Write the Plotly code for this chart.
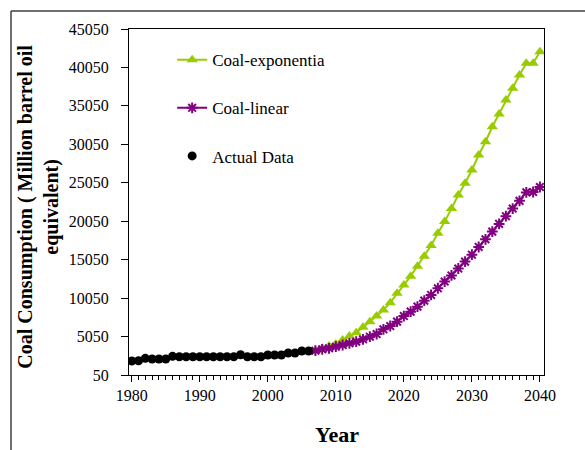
import plotly.graph_objects as go

years_actual = list(range(1980, 2007))
actual_data = [1870, 1910, 2220, 2130, 2130, 2130, 2480, 2430, 2430, 2430, 2430, 2430, 2430, 2430,
               2430, 2430, 2690, 2430, 2430, 2430, 2650, 2650, 2650, 2910, 2910, 3170, 3170]

years_proj = list(range(2007, 2041))
coal_exponential = [3250, 3520, 3820, 4080, 4600, 5120, 5550, 6250, 6980, 7720, 8500, 9450, 10670, 11760,
                    12900, 14200, 15500, 16900, 18500, 20000, 21700, 23460, 24980, 26710, 28660, 30390,
                    32340, 34000, 35820, 37340, 39070, 40590, 40590, 42100]
coal_linear = [3210, 3390, 3520, 3730, 3950, 4170, 4380, 4690, 5030, 5380, 5990, 6420, 6990, 7720,
               8290, 8940, 9720, 10460, 11330, 12200, 13000, 13900, 14800, 15700, 16700, 17700,
               18700, 19700, 20700, 21700, 22700, 23800, 23850, 24500]

y_ticks = [50, 5050, 10050, 15050, 20050, 25050, 30050, 35050, 40050, 45050]
y_tick_labels = [str(v) for v in y_ticks]
x_ticks = [1980, 1990, 2000, 2010, 2020, 2030, 2040]
x_tick_labels = [str(v) for v in x_ticks]

SERIF = "Liberation Serif, Times New Roman, serif"

fig = go.Figure()
fig.add_trace(go.Scatter(
    x=years_proj, y=coal_exponential, name="Coal-exponentia", legendgroup="a",
    mode="lines+markers", line=dict(color="#99CC00", width=2),
    marker=dict(symbol="triangle-up", size=10, color="#99CC00")))
fig.add_trace(go.Scatter(
    x=years_proj, y=coal_linear, name="Coal-linear", legendgroup="b",
    mode="lines+markers", line=dict(color="#800080", width=2),
    marker=dict(symbol="asterisk-open", size=9, color="#800080",
                line=dict(color="#800080", width=2))))
fig.add_trace(go.Scatter(
    x=years_actual, y=actual_data, name="Actual Data", legendgroup="c",
    mode="markers", marker=dict(symbol="circle", size=9, color="black")))

fig.update_layout(
    width=585, height=450,
    margin=dict(l=129, r=41, t=29, b=75),
    paper_bgcolor="white", plot_bgcolor="white",
    font=dict(family=SERIF, size=16, color="black"),
    showlegend=True,
    legend=dict(x=0.104, y=0.962, xanchor="left", yanchor="top",
                bgcolor="rgba(0,0,0,0)", font=dict(family=SERIF, size=17),
                tracegroupgap=23),
    xaxis=dict(range=[1979.6, 2040.6], tickvals=x_ticks, ticktext=x_tick_labels,
               ticks="outside", ticklen=6, automargin=False,
               tickcolor="black", showline=True, linecolor="black", linewidth=1,
               mirror=True, showgrid=False, zeroline=False,
               tickfont=dict(family=SERIF, size=16),
               minor=dict(dtick=1, tick0=1980, ticks="outside", ticklen=4, tickcolor="black",
                          showgrid=False)),
    yaxis=dict(range=[50, 45050], tickvals=y_ticks, ticktext=y_tick_labels,
               ticks="outside", ticklen=7, automargin=False, ticklabelstandoff=9,
               tickcolor="black", showline=True, linecolor="black", linewidth=1,
               mirror=True, showgrid=False, zeroline=False,
               tickfont=dict(family=SERIF, size=16)),
    annotations=[
        dict(text="<b>Year</b>", xref="paper", yref="paper", x=0.5, y=-0.173,
             xanchor="center", yanchor="middle", showarrow=False,
             font=dict(family=SERIF, size=22)),
        dict(text="<b>Coal Consumption ( Million barrel oil<br>equivalent)</b>",
             xref="paper", yref="paper", x=-0.218, y=0.485, textangle=-90,
             xanchor="center", yanchor="middle", showarrow=False,
             font=dict(family=SERIF, size=20)),
    ],
    shapes=[
        dict(type="line", xref="paper", yref="paper", x0=-0.2843, x1=1.2, y0=1.052, y1=1.052,
             line=dict(color="#404040", width=1.5)),
        dict(type="line", xref="paper", yref="paper", x0=-0.2843, x1=-0.2843, y0=1.052, y1=-0.3,
             line=dict(color="#404040", width=1.5)),
    ],
)

fig.write_html("out.html", config={"displayModeBar": False},
               post_script="document.body.style.margin='0';")
